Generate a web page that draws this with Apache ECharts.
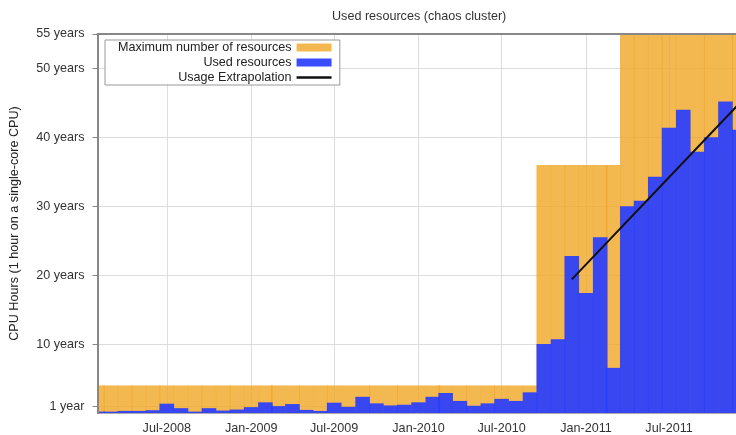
<!DOCTYPE html>
<html>
<head>
<meta charset="utf-8">
<style>
  html, body { margin: 0; padding: 0; background: #fff; }
  #chart { width: 736px; height: 435px; }
</style>
<script src="https://cdn.jsdelivr.net/npm/echarts@6/dist/echarts.min.js"></script>
</head>
<body>
<div id="chart"></div>
<script>
// one bar per month, centred on the 1st of the month
const months = [
  '2008-02', '2008-03', '2008-04', '2008-05', '2008-06', '2008-07', '2008-08', '2008-09', '2008-10', '2008-11', '2008-12',
  '2009-01', '2009-02', '2009-03', '2009-04', '2009-05', '2009-06', '2009-07', '2009-08', '2009-09', '2009-10', '2009-11', '2009-12',
  '2010-01', '2010-02', '2010-03', '2010-04', '2010-05', '2010-06', '2010-07', '2010-08', '2010-09', '2010-10', '2010-11', '2010-12',
  '2011-01', '2011-02', '2011-03', '2011-04', '2011-05', '2011-06', '2011-07', '2011-08', '2011-09', '2011-10', '2011-11', '2011-12'
]
const maxResources = [
  4, 4, 4, 4, 4, 4, 4, 4, 4, 4, 4,
  4, 4, 4, 4, 4, 4, 4, 4, 4, 4, 4, 4,
  4, 4, 4, 4, 4, 4, 4, 4, 4, 36, 36, 36,
  36, 36, 36, 55, 55, 55, 55, 55, 55, 55, 55, 55
]
const usedResources = [
  0.2, 0.2, 0.3, 0.3, 0.4, 1.35, 0.7, 0.2, 0.7, 0.35, 0.5,
  0.85, 1.55, 1.0, 1.3, 0.45, 0.3, 1.5, 0.9, 2.35, 1.4, 1.1, 1.2,
  1.55, 2.35, 2.9, 1.75, 1.05, 1.4, 2.05, 1.75, 3.0, 10.0, 10.7, 22.8,
  17.4, 25.5, 6.55, 30.0, 30.8, 34.3, 41.4, 44.0, 37.9, 40.0, 45.2, 41.1
]
const extrapolationMonths = ['2010-12', '2011-12']
const extrapolationValues = [19.4, 44.9]

const yTicks = [1, 10, 20, 30, 40, 50, 55]
const xTickMonths = ['2008-07', '2009-01', '2009-07', '2010-01', '2010-07', '2011-01', '2011-07']
const monthNames = ['Jan', 'Feb', 'Mar', 'Apr', 'May', 'Jun', 'Jul', 'Aug', 'Sep', 'Oct', 'Nov', 'Dec']
// visible date range (the picture is cut off on the right)
const axisStart = '2008-02-01'
const axisEnd = '2011-11-24'

const fontFamily = '"Liberation Sans", Arial, Helvetica, sans-serif'
const fontSize = 12.6

function toTime(s) {
  const p = s.split('-')
  return new Date(+p[0], +p[1] - 1, p[2] ? +p[2] : 1).getTime()
}

const xMin = toTime(axisStart)
const xMax = toTime(axisEnd)
const xTicks = xTickMonths.map(toTime)

const chart = echarts.init(document.getElementById('chart'))

chart.setOption({
  animation: false,
  title: {
    text: 'Used resources (chaos cluster)',
    left: 327,
    top: 5,
    textStyle: { fontSize, fontWeight: 'normal', color: '#333', fontFamily }
  },
  legend: {
    orient: 'vertical',
    left: 105,
    top: 40,
    align: 'right',
    itemWidth: 35,
    itemHeight: 8,
    itemGap: 2,
    padding: [1, 7, 1, 13],
    borderColor: '#999',
    borderWidth: 1,
    backgroundColor: '#fff',
    textStyle: { fontSize, color: '#222', fontFamily },
    data: [
      { name: 'Maximum number of resources', icon: 'rect' },
      { name: 'Used resources', icon: 'rect' },
      { name: 'Usage Extrapolation', itemStyle: { opacity: 0 }, lineStyle: { width: 2.5 } }
    ]
  },
  // the first bar sits on the axis start: hide the half that hangs left of the axis
  graphic: [{
    type: 'rect',
    z: 10,
    shape: { x: 86, y: 370, width: 11, height: 45 },
    style: { fill: '#fff' }
  }],
  grid: {
    left: 97.5,
    right: 0,
    top: 34,
    bottom: 21.5
  },
  xAxis: [{
    // dates as timestamps on a plain value axis
    type: 'value',
    min: xMin,
    max: xMax,
    axisLine: { lineStyle: { color: '#aaa', width: 1 } },
    axisTick: { show: true, length: 0, customValues: xTicks },
    axisLabel: {
      customValues: xTicks,
      color: '#333',
      fontSize,
      fontFamily,
      margin: 9,
      formatter: function (v) {
        const d = new Date(v)
        return monthNames[d.getMonth()] + '-' + d.getFullYear()
      }
    },
    splitLine: { show: true, lineStyle: { color: '#ddd', width: 1 } }
  }, {
    // top frame line, drawn over the bars
    type: 'value',
    position: 'top',
    z: 20,
    min: xMin,
    max: xMax,
    axisLine: { onZero: false, lineStyle: { color: '#888', width: 2 } },
    axisTick: { show: false },
    axisLabel: { show: false },
    splitLine: { show: false }
  }],
  yAxis: [{
    // grid lines only, below the bars
    type: 'value',
    min: 0,
    max: 55,
    axisLine: { show: false },
    axisTick: { show: false, customValues: yTicks },
    axisLabel: { show: false, customValues: yTicks },
    splitLine: { show: true, lineStyle: { color: '#ddd', width: 1 } }
  }, {
    // axis line, ticks and labels, above the mask
    type: 'value',
    position: 'left',
    z: 20,
    min: 0,
    max: 55,
    name: 'CPU Hours (1 hour on a single-core CPU)',
    nameLocation: 'middle',
    nameGap: 76,
    nameTextStyle: { fontSize, color: '#222', fontFamily },
    axisLine: { show: true, onZero: false, lineStyle: { color: '#888', width: 2 } },
    axisTick: { show: true, length: 5, customValues: yTicks, lineStyle: { color: '#888' } },
    axisLabel: {
      customValues: yTicks,
      color: '#333',
      fontSize,
      fontFamily,
      margin: 13,
      formatter: v => (v === 1 ? '1 year' : v + ' years')
    },
    splitLine: { show: false }
  }],
  series: [{
    name: 'Maximum number of resources',
    type: 'bar',
    barWidth: 14.6,
    barGap: '-100%',
    itemStyle: { color: 'rgba(240,168,40,0.82)' },
    data: months.map((m, i) => [toTime(m), maxResources[i]])
  }, {
    name: 'Used resources',
    type: 'bar',
    barWidth: 14.6,
    barGap: '-100%',
    itemStyle: { color: 'rgba(40,62,255,0.92)' },
    data: months.map((m, i) => [toTime(m), usedResources[i]])
  }, {
    name: 'Usage Extrapolation',
    type: 'line',
    clip: true,
    symbol: 'none',
    color: '#111',
    lineStyle: { color: '#111', width: 2 },
    data: extrapolationMonths.map((m, i) => [toTime(m), extrapolationValues[i]])
  }]
})
</script>
</body>
</html>
